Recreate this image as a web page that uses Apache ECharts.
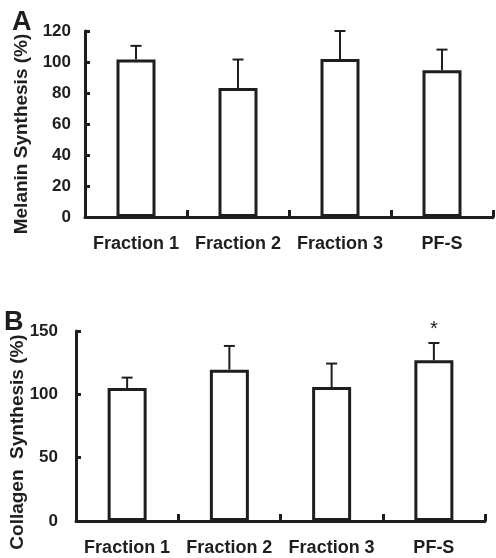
<!DOCTYPE html>
<html lang="en">
<head>
<meta charset="utf-8" />
<title>Melanin and collagen synthesis</title>
<script src="https://cdn.jsdelivr.net/npm/echarts@6/dist/echarts.min.js"></script>
<style>
  html, body { margin: 0; padding: 0; background: #fff; }
  #chart { width: 496px; height: 558px; }
</style>
</head>
<body>
<div id="chart"></div>
<script type="text/javascript">
// data
var categories = ['Fraction 1', 'Fraction 2', 'Fraction 3', 'PF-S'];
var melaninMean = [101.6, 83.3, 102.0, 94.7];
var melaninSD = [8.8, 18.3, 18.0, 13.3];
var collagenMean = [105.0, 119.5, 105.8, 126.9];
var collagenSD = [8.2, 18.7, 18.5, 13.6];
var collagenSig = ['', '', '', '*'];

var ink = '#1e1e1e';
var font = '"Liberation Sans", Arial, sans-serif';

// upward-only error bar with a cap, plus optional significance mark
function errorBar(params, api) {
    var x = api.value(0);
    var lo = api.coord([x, api.value(1)]);
    var hi = api.coord([x, api.value(2)]);
    var half = 5.5;
    var kids = [
        { type: 'line', shape: { x1: lo[0], y1: lo[1], x2: hi[0], y2: hi[1] },
          style: { stroke: ink, lineWidth: 2 } },
        { type: 'line', shape: { x1: hi[0] - half, y1: hi[1], x2: hi[0] + half, y2: hi[1] },
          style: { stroke: ink, lineWidth: 2 } }
    ];
    var mark = api.value(3);
    if (mark && mark !== '-') {
        kids.push({ type: 'text', x: hi[0], y: hi[1] - 14,
            style: { text: mark, fill: ink, font: '20px ' + font,
                     align: 'center', verticalAlign: 'middle' } });
    }
    return { type: 'group', children: kids };
}

function errData(mean, sd, sig) {
    return mean.map(function (m, i) {
        return [i, m, +(m + sd[i]).toFixed(1), sig ? (sig[i] || '-') : '-'];
    });
}

function xAx(idx) {
    return {
        type: 'category', gridIndex: idx, data: categories,
        axisLine: { lineStyle: { color: ink, width: 3 } },
        axisTick: { show: true, inside: true, length: 7, interval: 0,
                    lineStyle: { color: ink, width: 3 } },
        axisLabel: { color: ink, fontFamily: font, fontWeight: 'bold',
                     fontSize: 18, margin: 18, interval: 0 }
    };
}

function yAx(idx, max, step, margin) {
    return {
        type: 'value', gridIndex: idx, min: 0, max: max, interval: step,
        splitLine: { show: false },
        axisLine: { show: true, lineStyle: { color: ink, width: 3 } },
        axisTick: { show: true, inside: true, length: 5,
                    lineStyle: { color: ink, width: 3 } },
        axisLabel: { color: ink, fontFamily: font, fontWeight: 'bold',
                     fontSize: 17, margin: margin }
    };
}

var chart = echarts.init(document.getElementById('chart'), null, { renderer: 'canvas' });

chart.setOption({
    animation: false,
    backgroundColor: '#fff',
    grid: [
        { left: 85, right: 3, top: 31, height: 186 },
        { left: 76, right: 11, top: 331, height: 190 }
    ],
    xAxis: [xAx(0), xAx(1)],
    yAxis: [yAx(0, 120, 20, 14), yAx(1, 150, 50, 18)],
    graphic: [
        { type: 'text', x: 12, y: 23, style: { text: 'A', fill: ink,
          font: 'bold 27px ' + font, verticalAlign: 'middle' } },
        { type: 'text', x: 4, y: 323, style: { text: 'B', fill: ink,
          font: 'bold 27px ' + font, verticalAlign: 'middle' } },
        { type: 'text', x: 22, y: 134, rotation: Math.PI / 2,
          style: { text: 'Melanin Synthesis (%)', fill: ink,
          font: 'bold 19px ' + font, align: 'center', verticalAlign: 'middle' } },
        { type: 'text', x: 18, y: 442, rotation: Math.PI / 2,
          style: { text: 'Collagen  Synthesis (%)', fill: ink,
          font: 'bold 19px ' + font, align: 'center', verticalAlign: 'middle' } }
    ],
    series: [
        { type: 'bar', xAxisIndex: 0, yAxisIndex: 0, data: melaninMean, barWidth: 39,
          itemStyle: { color: '#fff', borderColor: ink, borderWidth: 3 } },
        { type: 'custom', xAxisIndex: 0, yAxisIndex: 0, renderItem: errorBar,
          data: errData(melaninMean, melaninSD), z: 3 },
        { type: 'bar', xAxisIndex: 1, yAxisIndex: 1, data: collagenMean, barWidth: 39,
          itemStyle: { color: '#fff', borderColor: ink, borderWidth: 3 } },
        { type: 'custom', xAxisIndex: 1, yAxisIndex: 1, renderItem: errorBar,
          data: errData(collagenMean, collagenSD, collagenSig), z: 3 }
    ]
});
</script>
</body>
</html>
